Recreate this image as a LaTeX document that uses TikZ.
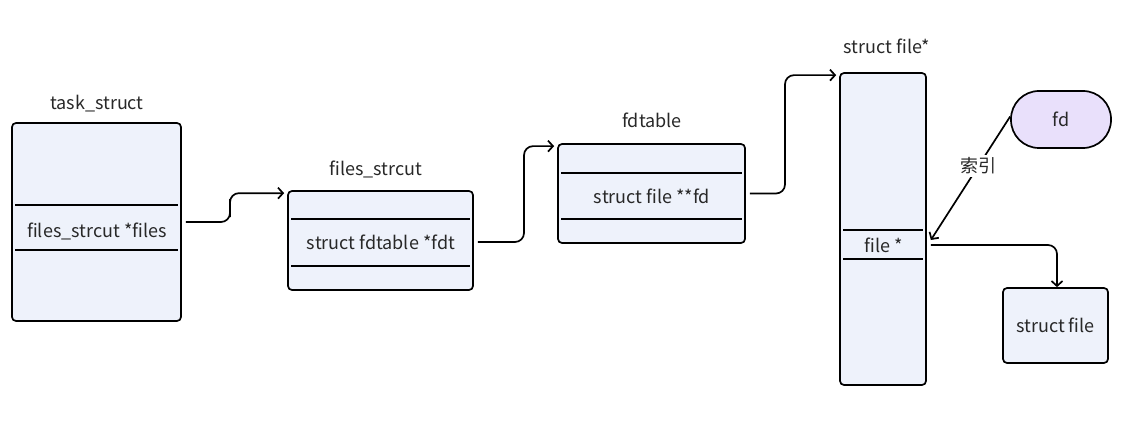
\documentclass[tikz,border=0pt]{standalone}
\usepackage{fontspec}
\setmainfont{Noto Sans CJK SC}
\usetikzlibrary{positioning}
\usetikzlibrary{calc}
\usetikzlibrary{arrows.meta}
\definecolor{boxfill}{RGB}{238,242,251}
\definecolor{fdfill}{RGB}{233,224,251}
\definecolor{txt}{RGB}{40,40,40}

\begin{document}
\begin{tikzpicture}[x=1pt, y=-1pt, line width=1.7pt,
    every node/.style={text=txt, font=\fontsize{18}{21}\selectfont},
    box/.style={draw, fill=boxfill, rounded corners=4pt, inner sep=0pt},
    link/.style={-{Straight Barb[length=5pt,width=11pt]}, rounded corners=9pt}]
				\useasboundingbox (0,0) rectangle (1127,441);
				% boxes
				\node[box, minimum width=169pt, minimum height=198pt] (task) at (96.5,222) {};
				\node[box, minimum width=185pt, minimum height=99pt] (strcut) at (380.5,240.5) {};
				\node[box, minimum width=187pt, minimum height=99pt] (fdtable) at (651.5,193.5) {};
				\node[box, minimum width=86pt, minimum height=312pt] (fileptr) at (883,229) {};
				\node[box, minimum width=105pt, minimum height=75pt] (sfile) at (1055.5,325.5) {struct file};
				\node[draw, fill=fdfill, rounded corners=28pt, minimum width=100pt, minimum height=57pt] (fd) at (1061,119.5) {fd};
				% titles
				\node (tasktitle) at (97,104) {task\_struct};
				\node (strcuttitle) at (376,169) {files\_strcut};
				\node (fdtabletitle) at (652,120) {fdtable};
				\node (fileptrtitle) at (887,46) {struct file*};
				% rows
				\draw (15,205) -- (178,205) (15,250) -- (178,250);
				\node (tfiles) at (97,231) {files\_strcut *files};
				\draw (291,219) -- (470,219) (291,266) -- (470,266);
				\node (fdt) at (381,242) {struct fdtable *fdt};
				\draw (561,173) -- (742,173) (561,219) -- (742,219);
				\node (fdarr) at (652,196) {struct file **fd};
				\draw (843,230) -- (923,230) (843,259) -- (923,259);
				\node (fptr) at (884,245) {file *};
				% links
				\draw[link] ([xshift=4pt]task.east) -| (230,208) |- ([shift={(-3,3)}]strcut.north west);
				\draw[link] ([xshift=4pt]strcut.east |- fdt) -| (524,190) |- ([shift={(-3,3)}]fdtable.north west);
				\draw[link] ([xshift=4pt]fdtable.east) -| (785,130) |- ([shift={(-3,3)}]fileptr.north west);
				\draw[-{Straight Barb[length=5pt,width=11pt]}] ([yshift=3pt]fd.west) -- node[pos=0.4, fill=white, inner sep=3pt] (idx) {索引} ([shift={(4,-5)}]fileptr.east |- fptr);
				\draw[link] ([xshift=4pt]fileptr.east |- fptr) -| ([xshift=1.5pt]sfile.north);
		    \end{tikzpicture}
\end{document}
